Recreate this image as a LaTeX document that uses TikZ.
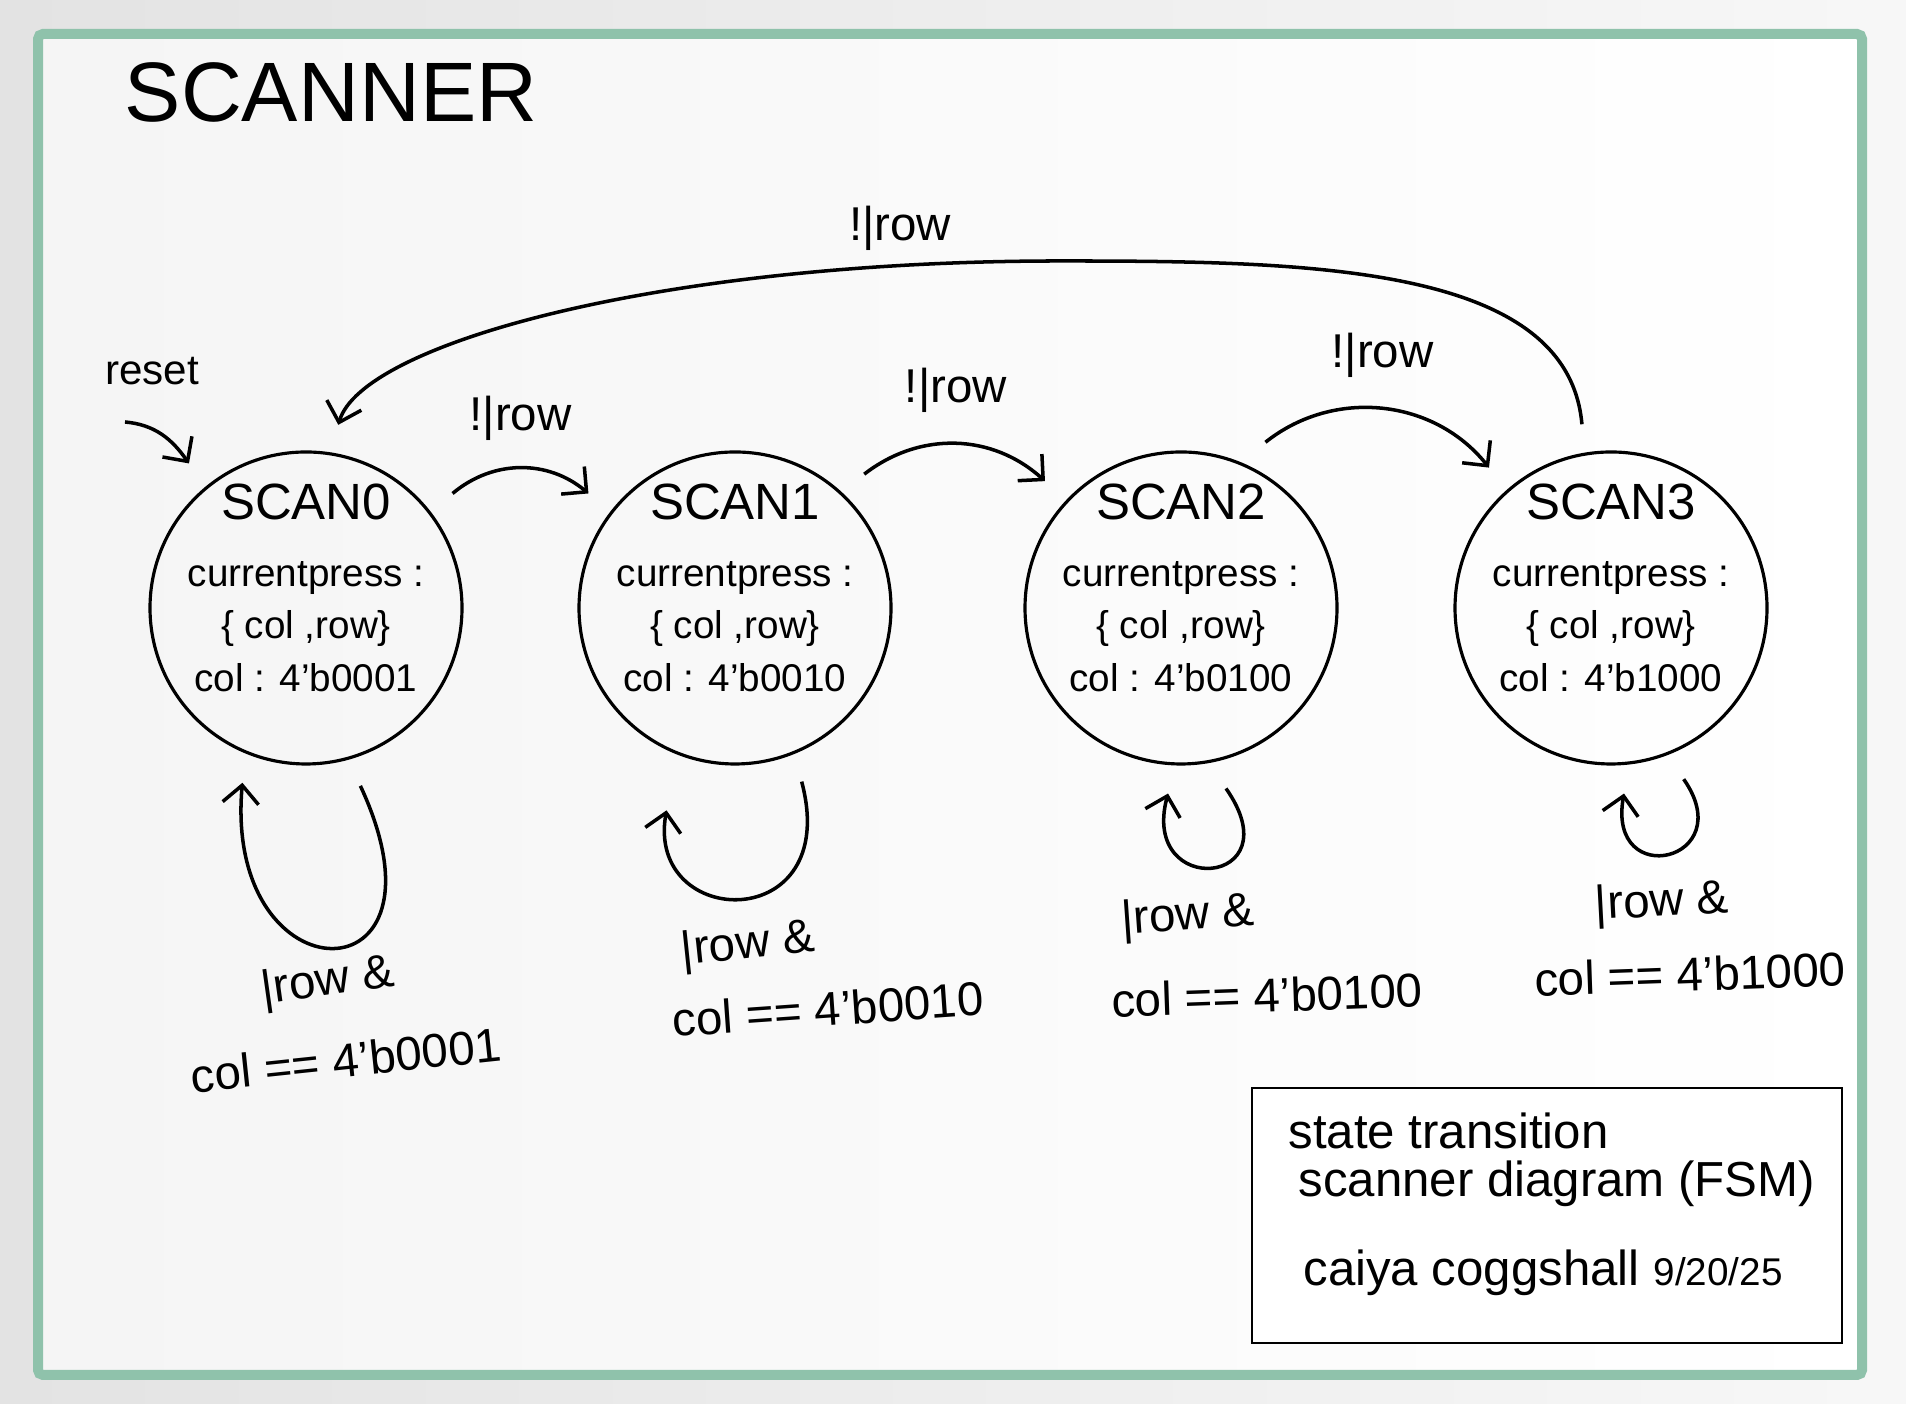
\documentclass[tikz,border=0pt]{standalone}
\usepackage{fontspec}
\setmainfont{Liberation Sans}
\usetikzlibrary{arrows.meta}
\definecolor{framegreen}{HTML}{8FC2AB}

\begin{document}
\begin{tikzpicture}[
	scanstate/.style={shape=circle,
					  draw=black,
					  line width=0.9pt,
					  minimum size=3.12cm,
					  inner sep=0pt,
					  outer sep=0.3cm},
	statetext/.style={align=center,
					  inner sep=0pt,
					  anchor=north,
					  font=\fontsize{11}{15}\selectfont},
	cond/.style={font=\fontsize{13.5}{16}\selectfont},
	notetext/.style={anchor=base west,
					 font=\fontsize{14}{18}\selectfont},
	edge/.style={line width=1pt},
	>={Straight Barb[length=1.8mm,width=3.6mm]}]
	\useasboundingbox (0,0) rectangle (19.06,14.04);
	\shade[left color=black!11, right color=black!3] (0,0) rectangle (19.06,14.04);
	\shade[left color=black!4, right color=white] (0.38,0.29) rectangle (18.62,13.70);
	\draw[framegreen, line width=0.1cm, rounded corners=0.05cm] (0.38,0.29) rectangle (18.62,13.70);
	
	\draw (3.31,13.12) node[font=\fontsize{24}{30}\selectfont](title){SCANNER};
	
	\foreach \i/\x/\code in {0/3.06/0001, 1/7.35/0010, 2/11.81/0100, 3/16.11/1000}{
		\draw (\x,7.96) node[scanstate](scan\i){};
		\draw (\x,9.21) node[statetext](txt\i){{\fontsize{14.5}{16}\selectfont SCAN\i}\\[4pt]
			currentpress :\\ \{ col ,row\}\\ col : 4'b\code};
	}
	
	\draw (1.52,10.33) node[font=\fontsize{12}{14}\selectfont](reset){reset};
	\coordinate (rstart) at (1.25,9.82);
	\draw [->, edge](rstart) to[out=-5, in=125] (scan0.129);
	
	\draw [->, edge](scan0.38) to[bend left=40] node[cond, above=4pt](c01){!|row} (scan1.142);
	\draw [->, edge](scan1.46) to[bend left=40] node[cond, above=5pt](c12){!|row} (scan2.137);
	\draw [->, edge](scan2.63) to[bend left=45] node[cond, above=5pt](c23){!|row} (scan3.131);
	
	\draw [->, edge](scan3.99) .. controls +(95:1.6) and +(0:2.5) .. (10.6,11.43)
		.. controls +(180:4) and (3.62,10.6) .. (scan0.80);
	\draw (9.00,11.76) node[cond](c30){!|row};
	
	\draw [->, edge](scan0.-73) .. controls +(-65:2.4) and +(-95:2.2) .. (scan0.-110);
	\draw [->, edge, shorten >=0.28cm](scan1.-69) .. controls +(-75:1.6) and +(-100:1.5) .. (scan1.-110);
	\draw [->, edge](scan2.-76) .. controls +(-55:1.2) and +(-105:1.1) .. (scan2.-94);
	\draw [->, edge](scan3.-67) .. controls +(-55:1.0) and +(-100:1.0) .. (scan3.-86);
	
	\draw (3.28,4.21) node[cond, rotate=8](r0){|row \&};
	\draw (3.46,3.44) node[cond, rotate=6](k0){col == 4'b0001};
	\draw (7.48,4.58) node[cond, rotate=6](r1){|row \&};
	\draw (8.28,3.95) node[cond, rotate=4](k1){col == 4'b0010};
	\draw (11.88,4.86) node[cond, rotate=4](r2){|row \&};
	\draw (12.67,4.09) node[cond, rotate=2](k2){col == 4'b0100};
	\draw (16.62,5.00) node[cond, rotate=3](r3){|row \&};
	\draw (16.90,4.30) node[cond, rotate=2](k3){col == 4'b1000};
	
	\draw (15.47,1.885) node[draw=black,
							 line width=0.8pt,
							 fill=white,
							 minimum width=5.9cm,
							 minimum height=2.55cm](note){};
	\draw (12.76,2.55) node[notetext](n1){state transition};
	\draw (12.86,2.07) node[notetext](n2){scanner diagram (FSM)};
	\draw (12.91,1.18) node[notetext](n3){caiya coggshall {\fontsize{11}{13}\selectfont 9/20/25}};
\end{tikzpicture}
\end{document}
